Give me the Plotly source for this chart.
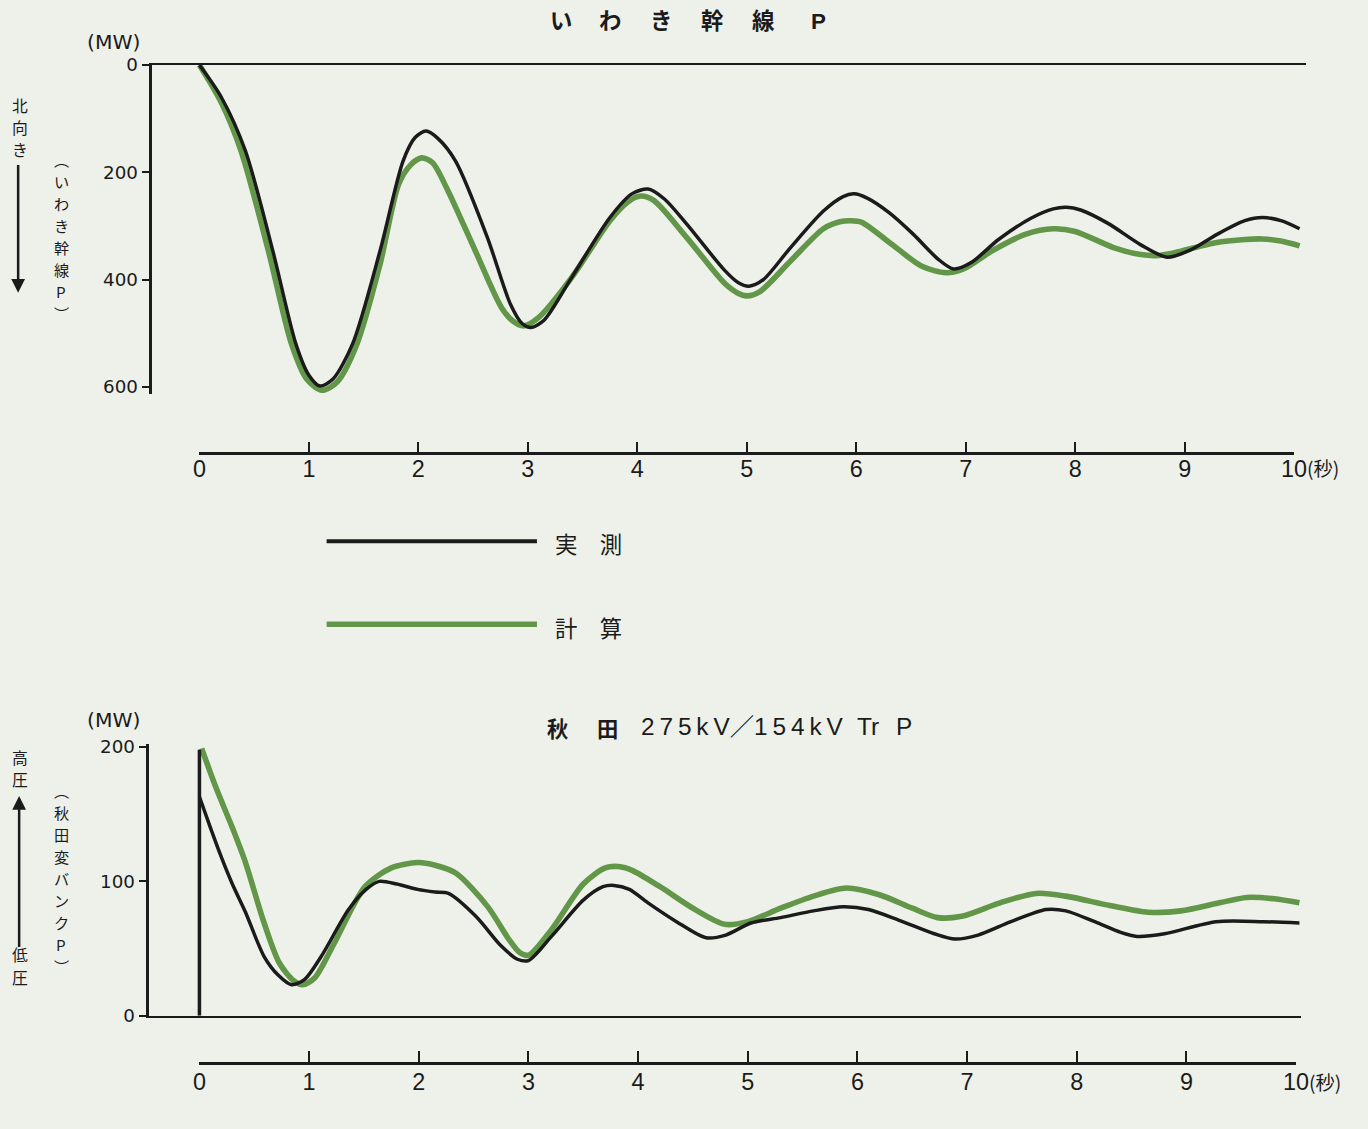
import plotly.graph_objects as go

# Layout positions below are given in the reference picture's pixels (1368x1129).
# The capture shows the page slightly reduced, so positions are mapped through a
# measured scale before being turned into paper fractions.
REF_W, REF_H = 1368, 1129
SX, SY, Y0 = 1 / 0.984, 1 / 0.983, 2.0
OFF = 8  # default body margin
W = int(round(REF_W * SX)) - OFF
H = int(round((REF_H - Y0) * SY)) - OFF

# ---------------- data ----------------
# いわき幹線P (MW, 北向き positive downward)
iwaki_t_meas = [0, 0.2, 0.42, 0.67, 0.88, 1.0, 1.1, 1.22, 1.4, 1.65, 1.86, 1.97, 2.07, 2.18, 2.34,
                2.63, 2.84, 2.95, 3.03, 3.15, 3.4, 3.75, 3.95, 4.1, 4.25, 4.45, 4.8, 4.92, 5.02,
                5.15, 5.4, 5.7, 5.88, 5.98, 6.1, 6.3, 6.52, 6.75, 6.89, 7.05, 7.3, 7.6, 7.8, 7.92,
                8.05, 8.3, 8.6, 8.84, 9.05, 9.3, 9.55, 9.71, 9.88, 10.05]
iwaki_v_meas = [0, 60, 160, 346, 519, 578, 598, 585, 519, 346, 179, 135, 123, 137, 179,
                321, 445, 482, 489, 475, 396, 284, 240, 231, 250, 296, 383, 405, 412,
                400, 340, 272, 245, 240, 248, 275, 315, 362, 380, 368, 325, 285, 268, 265,
                270, 295, 335, 358, 345, 315, 290, 284, 290, 305]

iwaki_t_calc = [0, 0.2, 0.38, 0.63, 0.84, 0.98, 1.12, 1.26, 1.44, 1.65, 1.82, 1.93, 2.03, 2.13,
                2.27, 2.52, 2.76, 2.87, 2.96, 3.1, 3.4, 3.75, 3.92, 4.03, 4.15, 4.45, 4.8, 4.92,
                5.0, 5.12, 5.4, 5.7, 5.85, 5.95, 6.05, 6.3, 6.6, 6.82, 6.98, 7.25, 7.55, 7.8,
                8.0, 8.35, 8.6, 8.74, 8.9, 9.28, 9.55, 9.71, 9.88, 10.05]
iwaki_v_calc = [0, 70, 160, 346, 519, 585, 606, 590, 519, 371, 222, 186, 173, 182,
                234, 346, 452, 478, 486, 470, 396, 290, 254, 244, 252, 321, 407, 425,
                430, 422, 365, 305, 292, 290, 293, 330, 375, 387, 380, 345, 315, 305,
                310, 340, 353, 355, 350, 331, 325, 324, 328, 337]

# 秋田 275kV/154kV Tr P (MW)
akita_jump_t = [0, 0]
akita_jump_v = [0, 198]

akita_t_meas = [0, 0.1, 0.2, 0.3, 0.42, 0.59, 0.72, 0.84, 0.96, 1.11, 1.36, 1.52, 1.64, 1.8,
                1.99, 2.15, 2.27, 2.52, 2.75, 2.9, 3.0, 3.21, 3.5, 3.68, 3.78, 3.92, 4.09,
                4.35, 4.62, 4.8, 5.03, 5.3, 5.6, 5.87, 6.1, 6.38, 6.7, 6.89, 7.1, 7.4, 7.72,
                7.9, 8.19, 8.4, 8.55, 8.8, 9.27, 9.7, 10.03]
akita_v_meas = [163, 140, 118, 98, 77, 44, 30, 23, 27, 44, 79, 94, 100, 98,
                94, 92, 91, 74, 52, 42, 41, 59, 86, 96, 97, 94, 84,
                70, 58, 60, 69, 73, 78, 81, 79, 71, 61, 57, 60, 70, 79,
                78, 69, 62, 59, 61, 70, 70, 69]

akita_t_calc = [0.02, 0.15, 0.3, 0.42, 0.59, 0.73, 0.86, 0.94, 1.05, 1.23, 1.51, 1.75, 1.99,
                2.15, 2.34, 2.63, 2.82, 2.92, 3.0, 3.21, 3.5, 3.7, 3.82, 3.95, 4.2, 4.5,
                4.79, 5.0, 5.3, 5.6, 5.9, 6.2, 6.5, 6.73, 6.95, 7.3, 7.63, 7.9, 8.3, 8.65,
                8.95, 9.3, 9.55, 9.8, 10.03]
akita_v_calc = [199, 170, 140, 114, 69, 39, 26, 23, 28, 54, 96, 110, 114,
                112, 106, 81, 57, 47, 45, 64, 98, 110, 111, 108, 96, 80,
                68, 70, 80, 89, 95, 90, 80, 73, 74, 84, 91, 89, 82, 77,
                78, 84, 88, 87, 84]

time_ticks = list(range(11))
time_labels = [str(v) for v in time_ticks]
iwaki_yticks = [0, 200, 400, 600]
akita_yticks = [0, 100, 200]

# ---------------- styles ----------------
BG = "#eef1ea"
INK = "#1b1b1b"
GREEN = "#629648"
CJK = "Noto Sans CJK JP"
NUM = "Liberation Sans Narrow, Liberation Sans, Arial, sans-serif"
TS = "\u2009"  # thin space for letter spacing


def fs(s):
    return round(s * SX, 1)


def px(r):
    return (r * SX - OFF) / W


def py(r):
    return 1 - ((r - Y0) * SY - OFF) / H


fig = go.Figure()

spl = dict(shape="spline", smoothing=0.8)
GW, KW = 5.6, 3.5
fig.add_trace(go.Scatter(x=iwaki_t_calc, y=iwaki_v_calc, mode="lines", line=dict(color=GREEN, width=GW, **spl),
                         xaxis="x", yaxis="y", showlegend=False, cliponaxis=False))
fig.add_trace(go.Scatter(x=iwaki_t_meas, y=iwaki_v_meas, mode="lines", line=dict(color=INK, width=KW, **spl),
                         xaxis="x", yaxis="y", showlegend=False, cliponaxis=False))
fig.add_trace(go.Scatter(x=akita_t_calc, y=akita_v_calc, mode="lines", line=dict(color=GREEN, width=GW, **spl),
                         xaxis="x2", yaxis="y2", showlegend=False, cliponaxis=False))
fig.add_trace(go.Scatter(x=akita_jump_t, y=akita_jump_v, mode="lines", line=dict(color=INK, width=KW),
                         xaxis="x2", yaxis="y2", showlegend=False, cliponaxis=False))
fig.add_trace(go.Scatter(x=akita_t_meas, y=akita_v_meas, mode="lines", line=dict(color=INK, width=KW, **spl),
                         xaxis="x2", yaxis="y2", showlegend=False, cliponaxis=False))
fig.add_trace(go.Scatter(x=time_ticks, y=[0] * len(time_ticks), mode="markers", marker=dict(opacity=0),
                         xaxis="x3", yaxis="y3", showlegend=False, hoverinfo="skip"))
fig.add_trace(go.Scatter(x=time_ticks, y=[0] * len(time_ticks), mode="markers", marker=dict(opacity=0),
                         xaxis="x4", yaxis="y4", showlegend=False, hoverinfo="skip"))

ytick_font = dict(family="DejaVu Sans, sans-serif", size=fs(18), color=INK)
xtick_font = dict(family=NUM, size=fs(23), color=INK)

fig.update_layout(
    width=W, height=H,
    margin=dict(l=0, r=0, t=0, b=0),
    paper_bgcolor=BG, plot_bgcolor="rgba(0,0,0,0)",
    showlegend=False,
    xaxis=dict(domain=[px(153), px(1305)], range=[(153 - 200) / 109.3, (1305 - 200) / 109.3],
               anchor="y", side="top", showline=True, linecolor=INK, linewidth=2,
               showticklabels=False, ticks="", showgrid=False, zeroline=False),
    yaxis=dict(domain=[py(64 + 612 * 0.5375), py(64)], range=[612, 0], anchor="x",
               showline=True, linecolor=INK, linewidth=2.5, ticks="outside", ticklen=8, tickwidth=2,
               tickcolor=INK, tickvals=iwaki_yticks, tickfont=ytick_font, showgrid=False, zeroline=False),
    xaxis2=dict(domain=[px(150), px(1300)], range=[(150 - 200) / 109.5, (1300 - 200) / 109.5],
                anchor="y2", showline=True, linecolor=INK, linewidth=2,
                showticklabels=False, ticks="", showgrid=False, zeroline=False),
    yaxis2=dict(domain=[py(1016), py(1016 - 202 * 1.345)], range=[0, 202], anchor="x2",
                showline=True, linecolor=INK, linewidth=2.5, ticks="outside", ticklen=8, tickwidth=2,
                tickcolor=INK, tickvals=akita_yticks, tickfont=ytick_font, showgrid=False, zeroline=False),
    xaxis3=dict(domain=[px(200), px(1293)], range=[0, 10], anchor="y3", showline=True, linecolor=INK,
                linewidth=2.5, ticks="inside", ticklen=11, tickwidth=2, tickcolor=INK,
                tickvals=time_ticks, ticktext=time_labels, tickfont=xtick_font,
                showgrid=False, zeroline=False),
    yaxis3=dict(domain=[py(452), py(452) + 0.02], range=[0, 1], anchor="x3", visible=False),
    xaxis4=dict(domain=[px(200), px(1295)], range=[0, 10], anchor="y4", showline=True, linecolor=INK,
                linewidth=2.5, ticks="inside", ticklen=11, tickwidth=2, tickcolor=INK,
                tickvals=time_ticks, ticktext=time_labels, tickfont=xtick_font,
                showgrid=False, zeroline=False),
    yaxis4=dict(domain=[py(1062), py(1062) + 0.02], range=[0, 1], anchor="x4", visible=False),
)

# pull the top time labels a little closer to their axis line
try:
    fig.layout.xaxis3.ticklabelstandoff = -6
    fig.layout.xaxis4.ticklabelstandoff = -2
except Exception:
    pass

ann = []


def text(x, y, s, size, family=CJK, xanchor="center", yanchor="middle", weight=None):
    f = dict(family=family, size=fs(size), color=INK)
    if weight:
        f["weight"] = weight
    ann.append(dict(x=px(x), y=py(y), xref="paper", yref="paper", text=s, showarrow=False,
                    font=f, xanchor=xanchor, yanchor=yanchor))


def vtext(x, y0, step, chars, size):
    for i, ch in enumerate(chars):
        text(x, y0 + i * step, ch, size)


# titles
for cx, ch in zip([561, 610, 661, 712, 763, 818], ["い", "わ", "き", "幹", "線", "P"]):
    text(cx, 20, ch, 22, family="Liberation Sans, " + CJK, weight="bold")
text(558, 727, "秋", 21, weight="bold")
text(607, 727, "田", 21, weight="bold")
text(639, 726, TS.join("275kV") + "／" + TS.join("154kV"), 24,
     family="Liberation Sans, " + CJK, xanchor="left")
text(855, 726, "Tr", 24, family="Liberation Sans, sans-serif", xanchor="left")
text(893, 726, "P", 24, family="Liberation Sans, sans-serif", xanchor="left")
# units
text(114, 41, "(MW)", 20, family="DejaVu Sans, sans-serif")
text(114, 720, "(MW)", 20, family="DejaVu Sans, sans-serif")
# seconds
text(1304, 468, "(秒)", 19, xanchor="left")
text(1306, 1082, "(秒)", 19, xanchor="left")
# vertical side labels
vtext(21, 105, 22, "北向き", 15.5)
vtext(62, 158, 22, "︵いわき幹線P︶", 15)
vtext(21, 757, 23, "高圧", 15.5)
vtext(21, 955, 23, "低圧", 15.5)
vtext(62, 790, 22, "︵秋田変バンクP︶", 15)
# legend texts
text(553, 543, "実　測", 22, xanchor="left")
text(553, 627, "計　算", 22, xanchor="left")

# arrows
ann.append(dict(x=px(19), y=py(292), xref="paper", yref="paper", ax=0, ay=-127 * SY, axref="pixel", ayref="pixel",
                text="", showarrow=True, arrowhead=2, arrowsize=1.1, arrowwidth=2.5, arrowcolor=INK))
ann.append(dict(x=px(20), y=py(796), xref="paper", yref="paper", ax=0, ay=150 * SY, axref="pixel", ayref="pixel",
                text="", showarrow=True, arrowhead=2, arrowsize=1.1, arrowwidth=2.5, arrowcolor=INK))

fig.update_layout(annotations=ann)

fig.update_layout(shapes=[
    dict(type="line", xref="paper", yref="paper", x0=px(327), x1=px(537), y0=py(541), y1=py(541),
         line=dict(color=INK, width=4)),
    dict(type="line", xref="paper", yref="paper", x0=px(327), x1=px(537), y0=py(624), y1=py(624),
         line=dict(color=GREEN, width=GW)),
])

fig.write_html("out.html",
               post_script="document.documentElement.style.background='%s';"
                           "document.body.style.background='%s';" % (BG, BG))
